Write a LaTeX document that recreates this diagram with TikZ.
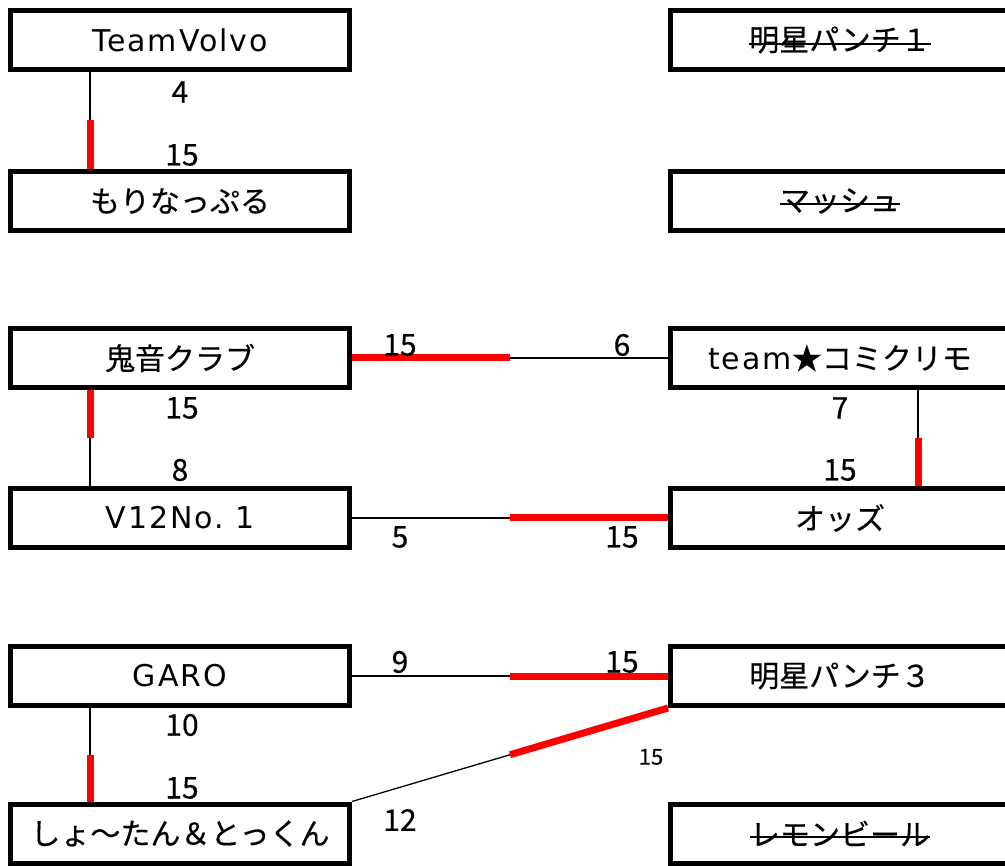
\documentclass[tikz,border=0pt]{standalone}
\usepackage{fontspec}
\setmainfont{Noto Sans CJK JP}[FakeBold=0.4]
\newfontfamily\lat{DejaVu Sans}[LetterSpace=6.5]
\usetikzlibrary{calc}
\begin{document}
\begin{tikzpicture}[x=1pt,y=-1pt,
  box/.style={draw=black,line width=5pt,minimum width=339pt,minimum height=59pt,inner sep=0pt,font=\fontsize{30}{32}\selectfont},
  txt/.style={inner sep=0pt,font=\fontsize{30}{32}\selectfont},
  num/.style={inner sep=0pt,font=\fontsize{30}{32}\selectfont},
  small/.style={inner sep=0pt,font=\fontsize{22}{24}\selectfont},
  lose/.style={draw=black,line width=1.3pt},
  win/.style={draw=red,line width=7pt},
  strike/.style={draw=black,line width=2pt}]
\useasboundingbox (0,0) rectangle (1005,866);
% left column
\node[box] (tv)   at (180,40) {\lat TeamVolvo};
\node[box] (mori) at (180,201) {もりなっぷる};
\node[box] (oni)  at (180,358) {鬼音クラブ};
\node[box] (v12)  at (180,518) {\lat V12No.\ 1};
\node[box] (garo) at (180,676) {\lat GARO};
\node[box] (sho)  at (180,833.5) {しょ〜たん＆とっくん};
% right column
\node[box] (my1)  at (840,40) {};
\node[txt] (my1t) at (840,40) {明星パンチ１};
\node[box] (mash) at (840,201) {};
\node[txt] (masht) at (840,201) {マッシュ};
\node[box] (team) at (840,358) {{\lat team}★コミクリモ};
\node[box] (odds) at (840,518) {オッズ};
\node[box] (my3)  at (840,676) {明星パンチ３};
\node[box] (lemon) at (840,833.5) {};
\node[txt] (lement) at (840,833.5) {レモンビール};
% strike-through
\draw[strike] ([yshift=-4pt]my1t.west) -- ([yshift=-4pt]my1t.east);
\draw[strike] ([yshift=-3pt]masht.west) -- ([yshift=-3pt]masht.east);
\draw[strike] ([yshift=-3pt]lement.west) -- ([yshift=-3pt]lement.east);
% connectors
\coordinate (a1) at ([xshift=82pt]tv.south west);
\coordinate (a2) at ([xshift=82pt]mori.north west);
\draw[lose] (a1) -- (a2);
\draw[win] ($(a1)!0.5!(a2)$) -- (a2);
\coordinate (b1) at ([xshift=82pt]oni.south west);
\coordinate (b2) at ([xshift=82pt]v12.north west);
\draw[lose] (b1) -- (b2);
\draw[win] (b1) -- ($(b1)!0.5!(b2)$);
\coordinate (c1) at ([xshift=250pt]team.south west);
\coordinate (c2) at ([xshift=250pt]odds.north west);
\draw[lose] (c1) -- (c2);
\draw[win] ($(c1)!0.5!(c2)$) -- (c2);
\draw[lose] (oni.east) -- (team.west);
\draw[win] (oni.east) -- ($(oni.east)!0.5!(team.west)$);
\draw[lose] (v12.east) -- (odds.west);
\draw[win] ($(v12.east)!0.5!(odds.west)$) -- (odds.west);
\draw[lose] (garo.east) -- (my3.west);
\draw[win] ($(garo.east)!0.5!(my3.west)$) -- (my3.west);
\coordinate (d1) at ([xshift=82pt]garo.south west);
\coordinate (d2) at ([xshift=82pt]sho.north west);
\draw[lose] (d1) -- (d2);
\draw[win] ($(d1)!0.5!(d2)$) -- (d2);
\draw[lose] (sho.north east) -- (my3.south west);
\draw[win] ($(sho.north east)!0.5!(my3.south west)$) -- (my3.south west);
% scores
\node[num] (s1) at (180,92) {4};
\node[num] (s2) at (182,155) {15};
\node[num] (s3) at (400,345) {15};
\node[num] (s4) at (622,345) {6};
\node[num] (s5) at (182,408) {15};
\node[num] (s6) at (180,470) {8};
\node[num] (s7) at (840,408) {7};
\node[num] (s8) at (840,470) {15};
\node[num] (s9) at (400,537) {5};
\node[num] (s10) at (622,537) {15};
\node[num] (s11) at (400,662) {9};
\node[num] (s12) at (622,662) {15};
\node[num] (s13) at (182,725) {10};
\node[num] (s14) at (182,788) {15};
\node[num] (s15) at (400,820) {12};
\node[small] (s16) at (651,757) {15};
\end{tikzpicture}
\end{document}
